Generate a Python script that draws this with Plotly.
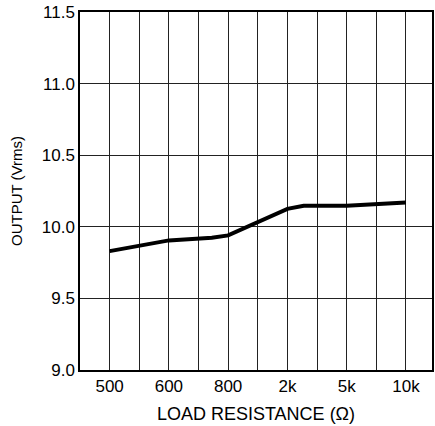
import plotly.graph_objects as go

# positions on the category axis (gridline index) and the output readings
x_pos = [1, 3, 4.45, 5, 7, 7.55, 9, 11]
output_vrms = [9.83, 9.905, 9.923, 9.94, 10.125, 10.147, 10.147, 10.17]

tick_pos = list(range(1, 12))
tick_text = ["500", "", "600", "", "800", "", "2k", "", "5k", "", "10k"]
y_ticks = [9.0, 9.5, 10.0, 10.5, 11.0, 11.5]

fig = go.Figure()

fig.add_trace(go.Scatter(
    x=x_pos,
    y=output_vrms,
    mode='lines',
    line=dict(color='black', width=4),
    showlegend=False,
))

fig.update_layout(
    width=435,
    height=426,
    plot_bgcolor='white',
    paper_bgcolor='white',
    margin=dict(l=80, r=1, t=12, b=56),
    font=dict(family='Liberation Sans, Arial, sans-serif', color='black'),
    xaxis=dict(
        range=[0, 11.88],
        tickvals=tick_pos,
        ticktext=tick_text,
        showgrid=True,
        gridcolor='#222222',
        gridwidth=1,
        zeroline=False,
        showline=True,
        linecolor='black',
        linewidth=1.5,
        mirror=True,
        ticks='',
        tickfont=dict(size=17),
        title=dict(text='LOAD RESISTANCE (Ω)', font=dict(size=18), standoff=12),
    ),
    yaxis=dict(
        range=[9.0, 11.5],
        tickvals=y_ticks,
        tickformat='.1f',
        showgrid=True,
        gridcolor='#222222',
        gridwidth=1,
        zeroline=False,
        showline=True,
        linecolor='black',
        linewidth=1.5,
        mirror=True,
        ticks='',
        tickfont=dict(size=17),
        title=dict(text='OUTPUT (Vrms)', font=dict(size=15), standoff=16),
    ),
)

# drop the default page margin so the figure sits at the window corner
fig.write_html("out.html", config={'displayModeBar': False},
               post_script="document.body.style.margin='0';")
